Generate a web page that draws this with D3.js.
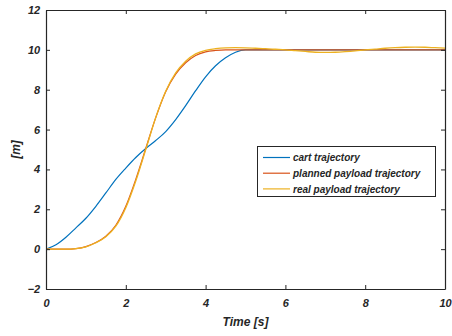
<!DOCTYPE html>
<html>
<head>
<meta charset="utf-8">
<script src="https://cdn.jsdelivr.net/npm/d3@7"></script>
<style>
  body { margin: 0; background: #fff; }
  text { font-family: "Liberation Sans", Arial, sans-serif; font-weight: bold; font-style: italic; fill: #262626; }
</style>
</head>
<body>
<script>
var width = 452,
    height = 336;

// time samples [s]
var time = [0, 0.25, 0.5, 0.75, 1, 1.25, 1.5, 1.75, 2, 2.25, 2.5, 2.75, 3, 3.25, 3.5, 3.75, 4, 4.25, 4.5, 4.75,
            5, 5.25, 5.5, 5.75, 6, 6.25, 6.5, 6.75, 7, 7.25, 7.5, 7.75, 8, 8.25, 8.5, 8.75, 9, 9.25, 9.5, 9.75, 10];
var cart = [0, 0.22, 0.6, 1.07, 1.55, 2.15, 2.82, 3.5, 4.07, 4.6, 5.05, 5.45, 5.9, 6.5, 7.2, 7.95, 8.65, 9.2, 9.6, 9.88,
            10, 10, 10, 10, 10, 10, 10, 10, 10, 10, 10, 10, 10, 10, 10, 10, 10, 10, 10, 10, 10];
var planned = [0, 0, 0, 0.03, 0.13, 0.33, 0.65, 1.2, 2.15, 3.5, 5.05, 6.6, 7.9, 8.78, 9.35, 9.72, 9.9, 9.97, 10, 10,
               10, 10, 10, 10, 10, 10, 10, 10, 10, 10, 10, 10, 10, 10, 10, 10, 10, 10, 10, 10, 10];
var real = [0, 0, 0, 0.03, 0.12, 0.32, 0.62, 1.15, 2.08, 3.42, 5.0, 6.6, 7.92, 8.84, 9.43, 9.8, 9.98, 10.06, 10.1, 10.11,
            10.1, 10.08, 10.06, 10.03, 10.0, 9.96, 9.92, 9.88, 9.87, 9.88, 9.91, 9.95, 10.0, 10.04, 10.08, 10.11, 10.13, 10.14, 10.13, 10.11, 10.09];

var xTicks = [0, 2, 4, 6, 8, 10];
var yTicks = [-2, 0, 2, 4, 6, 8, 10, 12];
var seriesNames = ["cart trajectory", "planned payload trajectory", "real payload trajectory"];
var colors = ["#0072BD", "#D95319", "#EDB120"];

var pLeft = 46, pRight = 445, pTop = 10, pBottom = 289;

var svg = d3.select("body").append("svg").attr("width", width).attr("height", height);

var x = d3.scaleLinear().domain([0, 10]).range([pLeft, pRight]);
var y = d3.scaleLinear().domain([-2, 12]).range([pBottom, pTop]);

var series = [cart, planned, real];
var line = d3.line()
    .x(function (d, i) { return x(time[i]); })
    .y(function (d) { return y(d); })
    .curve(d3.curveMonotoneX);

svg.append("clipPath").attr("id", "clip").append("rect")
    .attr("x", pLeft).attr("y", pTop).attr("width", pRight - pLeft).attr("height", pBottom - pTop);

var plot = svg.append("g").attr("clip-path", "url(#clip)");
series.forEach(function (s, k) {
    plot.append("path")
        .attr("d", line(s))
        .attr("fill", "none")
        .attr("stroke", colors[k])
        .attr("stroke-width", k == 2 ? 1.3 : 1.2);
});

// axes, MATLAB style box with inward ticks
var axColor = "#262626";
var xAxis = d3.axisBottom(x).tickValues(xTicks).tickSizeInner(-4).tickSizeOuter(0).tickPadding(8);
var yAxis = d3.axisLeft(y).tickValues(yTicks).tickSizeInner(-4).tickSizeOuter(0).tickPadding(8);

var gx = svg.append("g").attr("transform", "translate(0," + pBottom + ")").call(xAxis);
var gy = svg.append("g").attr("transform", "translate(" + pLeft + ",0)").call(yAxis);
svg.append("g").attr("transform", "translate(0," + pTop + ")")
    .call(d3.axisTop(x).tickValues(xTicks).tickSizeInner(-4).tickSizeOuter(0).tickFormat(""));
svg.append("g").attr("transform", "translate(" + pRight + ",0)")
    .call(d3.axisRight(y).tickValues(yTicks).tickSizeInner(-4).tickSizeOuter(0).tickFormat(""));

svg.selectAll(".domain").attr("stroke", axColor).attr("stroke-width", 1.2);
svg.selectAll(".tick line").attr("stroke", axColor).attr("stroke-width", 1);
svg.selectAll(".tick text")
    .attr("font-family", "Liberation Sans, Arial, sans-serif")
    .attr("font-size", 11)
    .attr("font-weight", "bold")
    .attr("font-style", "italic")
    .attr("fill", axColor);
gx.selectAll(".tick text").attr("dy", "0.95em");
gy.selectAll(".tick text").attr("dx", "0.2em");

// axis labels
svg.append("text")
    .attr("x", (pLeft + pRight) / 2)
    .attr("y", 326)
    .attr("text-anchor", "middle")
    .attr("font-size", 12)
    .text("Time [s]");
svg.append("text")
    .attr("transform", "translate(20," + ((pTop + pBottom) / 2) + ") rotate(-90)")
    .attr("text-anchor", "middle")
    .attr("font-size", 12)
    .text("[m]");

// legend
var lg = svg.append("g");
lg.append("rect")
    .attr("x", 257.5).attr("y", 146.5)
    .attr("width", 178).attr("height", 50)
    .attr("fill", "#fff").attr("stroke", axColor).attr("stroke-width", 1);
seriesNames.forEach(function (name, k) {
    var ly = 157.5 + k * 15.7;
    lg.append("line")
        .attr("x1", 263).attr("x2", 290)
        .attr("y1", ly).attr("y2", ly)
        .attr("stroke", colors[k]).attr("stroke-width", 1.2);
    lg.append("text")
        .attr("x", 293).attr("y", ly + 3.6)
        .attr("font-size", 10)
        .text(name);
});
</script>
</body>
</html>
